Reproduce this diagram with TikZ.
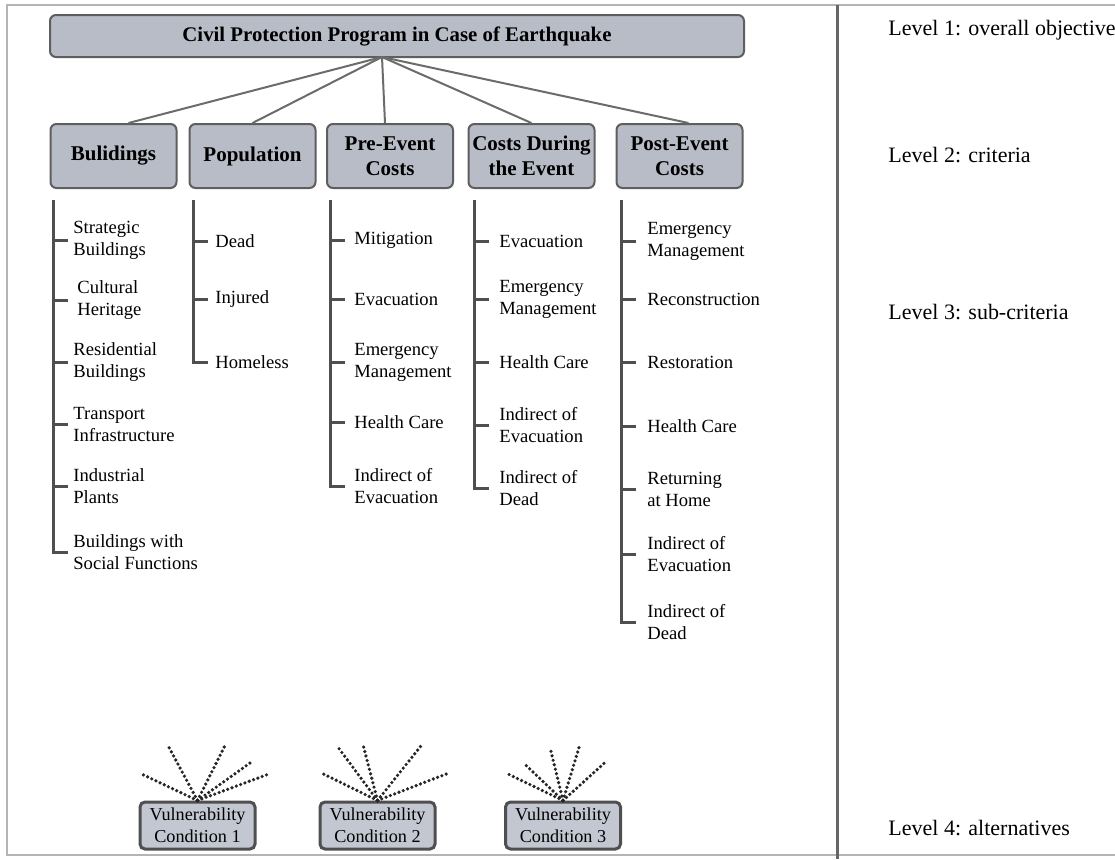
\documentclass[tikz,border=0pt]{standalone}
\usepackage{fontspec}
\setmainfont{Liberation Serif}
\usepackage{xcolor}

\definecolor{boxfill}{HTML}{B8BCC6}
\definecolor{altfill}{HTML}{C3C7D1}
\definecolor{boxline}{HTML}{5E5E5E}
\definecolor{treeline}{HTML}{4F4F4F}
\definecolor{frameline}{HTML}{B4B4B4}

\begin{document}
\begin{tikzpicture}[x=0.5pt,y=-0.5pt,
  goalbox/.style={draw=boxline,fill=boxfill,line width=1pt,rounded corners=3pt,
    minimum width=347pt,minimum height=21pt,inner sep=1pt,
    font=\bfseries\fontsize{10.4}{12.5}\selectfont},
  critbox/.style={draw=boxline,fill=boxfill,line width=1pt,rounded corners=3pt,
    minimum width=63pt,minimum height=32pt,inner sep=1pt,align=center,
    font=\bfseries\fontsize{10.5}{12.5}\selectfont},
  altbox/.style={draw=treeline,fill=altfill,line width=1.5pt,rounded corners=2.5pt,
    minimum width=57.5pt,minimum height=23.5pt,inner sep=1pt,align=center,
    font=\fontsize{9.1}{11}\selectfont},
  subc/.style={anchor=west,inner sep=0pt,align=left,font=\fontsize{9.3}{11}\selectfont},
  lvl/.style={anchor=west,inner sep=0pt,font=\fontsize{11}{13}\selectfont},
  link/.style={draw=black!58,line width=1pt},
  stem/.style={draw=treeline,line width=1.5pt},
  ray/.style={draw=black!85,line width=1.8pt,line cap=round,dash pattern=on 0pt off 2.3pt}]
\useasboundingbox (0,0) rectangle (1115,859);

% frame
\draw[frameline,line width=1pt] (1115,5) -- (7,5) -- (7,855) -- (1115,855);
\draw[black!60,line width=1.5pt] (837,5) -- (837,859);

% level 1 and level 2
\node[goalbox] (goal) at (397,36) {Civil Protection Program in Case of Earthquake};
\coordinate (hub) at (382,57);

\node[critbox] (bld) at (113.5,156) {Bulidings};
\node[critbox] (pop) at (252.5,156) {Population};
\node[critbox] (pre) at (390,156) {Pre-Event\\Costs};
\node[critbox] (dur) at (531.5,156) {Costs During\\the Event};
\node[critbox] (post) at (679.5,156) {Post-Event\\Costs};

\draw[link] (hub) -- ([xshift=7.5pt]bld.north);
\draw[link] (hub) -- (pop.north);
\draw[link] (hub) -- ([xshift=-2.5pt]pre.north);
\draw[link] (hub) -- (dur.north);
\draw[link] (hub) -- ([xshift=4.5pt]post.north);

% level 3
\coordinate (bldtop) at (53,200);
\node[subc] (bld1) at (73,240) {Strategic\\Buildings};
\node[subc] (bld2) at (77,300) {Cultural\\Heritage};
\node[subc] (bld3) at (73,362) {Residential\\Buildings};
\node[subc] (bld4) at (73,424) {Transport\\Infrastructure};
\node[subc] (bld5) at (73,486) {Industrial\\Plants};
\node[subc] (bld6) at (73,552) {Buildings with\\Social Functions};
\draw[stem] (bldtop) -- (bldtop |- bld6.west) -- ++(15,0);
\draw[stem] (bldtop |- bld1.west) -- ++(15,0);
\draw[stem] (bldtop |- bld2.west) -- ++(15,0);
\draw[stem] (bldtop |- bld3.west) -- ++(15,0);
\draw[stem] (bldtop |- bld4.west) -- ++(15,0);
\draw[stem] (bldtop |- bld5.west) -- ++(15,0);

\coordinate (poptop) at (193,200);
\node[subc] (pop1) at (215,241) {Dead};
\node[subc] (pop2) at (215,299) {Injured};
\node[subc] (pop3) at (215,362) {Homeless};
\draw[stem] (poptop) -- (poptop |- pop3.west) -- ++(15,0);
\draw[stem] (poptop |- pop1.west) -- ++(15,0);
\draw[stem] (poptop |- pop2.west) -- ++(15,0);

\coordinate (pretop) at (330,200);
\node[subc] (pre1) at (354,240) {Mitigation};
\node[subc] (pre2) at (354,299) {Evacuation};
\node[subc] (pre3) at (354,362) {Emergency\\Management};
\node[subc] (pre4) at (354,422) {Health Care};
\node[subc] (pre5) at (354,486) {Indirect of\\Evacuation};
\draw[stem] (pretop) -- (pretop |- pre5.west) -- ++(15,0);
\draw[stem] (pretop |- pre1.west) -- ++(15,0);
\draw[stem] (pretop |- pre2.west) -- ++(15,0);
\draw[stem] (pretop |- pre3.west) -- ++(15,0);
\draw[stem] (pretop |- pre4.west) -- ++(15,0);

\coordinate (durtop) at (474,200);
\node[subc] (dur1) at (499,241) {Evacuation};
\node[subc] (dur2) at (499,299) {Emergency\\Management};
\node[subc] (dur3) at (499,362) {Health Care};
\node[subc] (dur4) at (499,425) {Indirect of\\Evacuation};
\node[subc] (dur5) at (499,488) {Indirect of\\Dead};
\draw[stem] (durtop) -- (durtop |- dur5.west) -- ++(15,0);
\draw[stem] (durtop |- dur1.west) -- ++(15,0);
\draw[stem] (durtop |- dur2.west) -- ++(15,0);
\draw[stem] (durtop |- dur3.west) -- ++(15,0);
\draw[stem] (durtop |- dur4.west) -- ++(15,0);

\coordinate (posttop) at (621,200);
\node[subc] (post1) at (647,241) {Emergency\\Management};
\node[subc] (post2) at (647,299) {Reconstruction};
\node[subc] (post3) at (647,362) {Restoration};
\node[subc] (post4) at (647,426) {Health Care};
\node[subc] (post5) at (647,489) {Returning\\at Home};
\node[subc] (post6) at (647,554) {Indirect of\\Evacuation};
\node[subc] (post7) at (647,622) {Indirect of\\Dead};
\draw[stem] (posttop) -- (posttop |- post7.west) -- ++(15,0);
\draw[stem] (posttop |- post1.west) -- ++(15,0);
\draw[stem] (posttop |- post2.west) -- ++(15,0);
\draw[stem] (posttop |- post3.west) -- ++(15,0);
\draw[stem] (posttop |- post4.west) -- ++(15,0);
\draw[stem] (posttop |- post5.west) -- ++(15,0);
\draw[stem] (posttop |- post6.west) -- ++(15,0);

% level 4
\node[altbox] (alt1) at (197.5,825.5) {Vulnerability\\Condition 1};
\node[altbox] (alt2) at (377.5,825.5) {Vulnerability\\Condition 2};
\node[altbox] (alt3) at (563,825.5) {Vulnerability\\Condition 3};

\draw[ray] (alt1.north) -- ++(-57,-27);
\draw[ray] (alt1.north) -- ++(-29,-54);
\draw[ray] (alt1.north) -- ++(27,-54);
\draw[ray] (alt1.north) -- ++(56,-40);
\draw[ray] (alt1.north) -- ++(70,-26);

\draw[ray] (alt2.north) -- ++(-55,-27);
\draw[ray] (alt2.north) -- ++(-40,-54);
\draw[ray] (alt2.north) -- ++(-14,-54);
\draw[ray] (alt2.north) -- ++(43,-54);
\draw[ray] (alt2.north) -- ++(70,-27);

\draw[ray] (alt3.north) -- ++(-56,-27);
\draw[ray] (alt3.north) -- ++(-40,-38);
\draw[ray] (alt3.north) -- ++(-13,-53);
\draw[ray] (alt3.north) -- ++(16,-53);
\draw[ray] (alt3.north) -- ++(42,-38);

% level labels
\node[lvl] (lvl1) at (888,30) {Level 1: overall objective};
\node[lvl] (lvl2) at (888,155) {Level 2: criteria};
\node[lvl] (lvl3) at (888,312) {Level 3: sub-criteria};
\node[lvl] (lvl4) at (888,828) {Level 4: alternatives};
\end{tikzpicture}
\end{document}
